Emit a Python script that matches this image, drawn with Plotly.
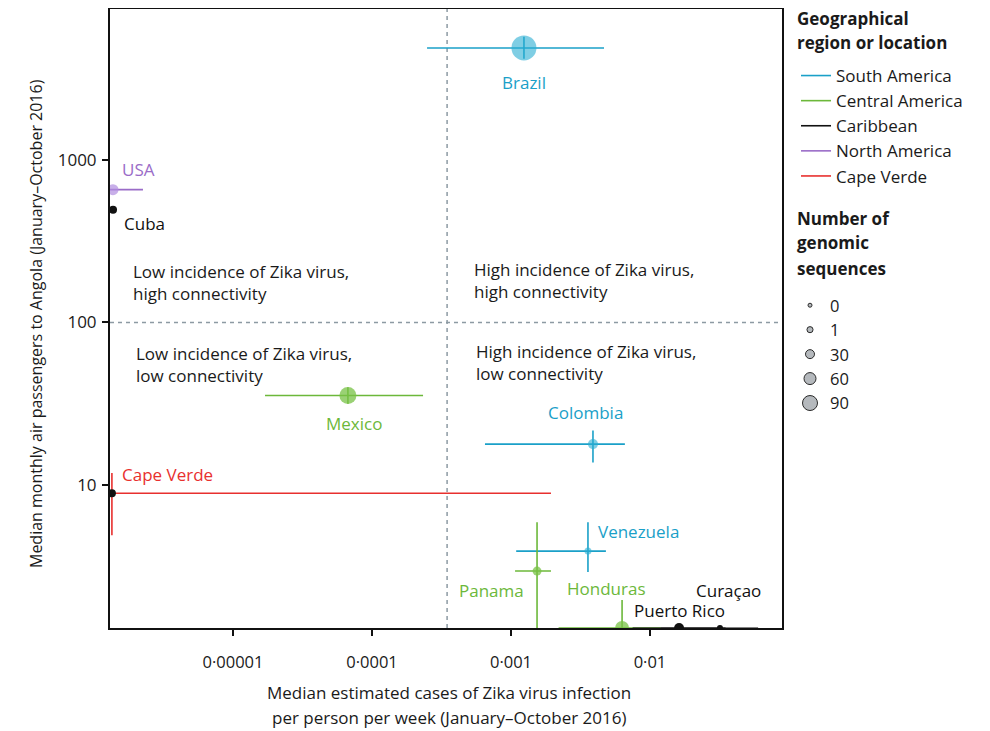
import numpy as np
import plotly.graph_objects as go

# ---------------- data ----------------
countries = ["Brazil", "Colombia", "Venezuela", "Mexico", "Panama", "Honduras",
             "Cuba", "Puerto Rico", "Curaçao", "USA", "Cape Verde"]
country_region = ["South America", "South America", "South America",
                  "Central America", "Central America", "Central America",
                  "Caribbean", "Caribbean", "Caribbean",
                  "North America", "Cape Verde"]
incidence = [0.00124, 0.00389, 0.00358, 6.71e-5, 0.00154, 0.00630,
             1.37e-6, 0.0162, 0.0319, 1.37e-6, 1.345e-6]
incidence_low = [0.000249, 0.00065, 0.00109, 1.70e-5, 0.00107, 0.0022,
                 1.37e-6, 0.0075, 0.012, 1.0e-6, 1.0e-6]
incidence_high = [0.00467, 0.0066, 0.00482, 0.000233, 0.00194, 0.012,
                  1.37e-6, 0.035, 0.06, 2.25e-6, 0.00194]
passengers = [4860, 17.9, 3.94, 35.6, 2.97, 1.3276, 493, 1.3276, 1.3276, 655, 8.93]
passengers_low = [4170, 13.8, 2.93, 31.7, 1.0, 1.0, 493, 1.3276, 1.3276, 655, 4.93]
passengers_high = [5690, 21.7, 5.93, 40.0, 5.93, 1.97, 493, 1.3276, 1.3276, 655, 11.9]
sequences = [190, 40, 10, 110, 30, 80, 20, 40, 1, 50, 20]

regions = ["South America", "Central America", "Caribbean", "North America", "Cape Verde"]
size_legend_values = [0, 1, 30, 60, 90]

incidence_threshold = 0.000347
connectivity_threshold = 100

x_tickvals = [1e-5, 1e-4, 1e-3, 1e-2]
x_ticktext = ["0·00001", "0·0001", "0·001", "0·01"]
y_tickvals = [10, 100, 1000]
y_ticktext = ["10", "100", "1000"]

# ---------------- styles ----------------
region_colors = {"South America": "#1aa0c8", "Central America": "#6cb83a",
                 "Caribbean": "#111111", "North America": "#9a6cc8",
                 "Cape Verde": "#e8302e"}
region_marker_colors = {"South America": "#2aaed2", "Central America": "#78c245",
                        "Caribbean": "#111111", "North America": "#b18de0",
                        "Cape Verde": "#111111"}
region_marker_opacity = {"South America": 0.6, "Central America": 0.75,
                         "Caribbean": 1.0, "North America": 0.7, "Cape Verde": 1.0}
region_bar_width = {"South America": 1.6, "Central America": 1.6,
                    "Caribbean": 1.0, "North America": 1.6, "Cape Verde": 1.6}

# label placement (pixel offsets from the point, text anchor)
label_style = {
    "Brazil": (0, -35, "center"), "Colombia": (-7, 32, "center"),
    "Venezuela": (8, 20, "left"), "Mexico": (6, -28, "center"),
    "Panama": (-46, -19, "center"), "Honduras": (-16, 39, "center"),
    "Cuba": (9, -14, "left"), "Puerto Rico": (-47, 17, "left"),
    "Curaçao": (-26, 37, "left"), "USA": (7, 20, "left"),
    "Cape Verde": (8, 19, "left"),
}

FONT = "Open Sans"
TXT = "#1a1a1a"

# page body has an 8px margin: the plot area sits at screen x 110-782, y 9-628
ML, MT, MR, MB = 102, 1, 216, 111
PW, PH = 990 - ML - MR, 731 - MT - MB


def seq_size(n):
    return 4 if n == 0 else 6 + 0.1 * n


def px_x(sx):
    return (sx - 8 - ML) / PW


def px_y(sy):
    return (731 - MB - (sy - 8)) / PH


fig = go.Figure()

for reg in regions:
    idx = [i for i, r in enumerate(country_region) if r == reg]
    c = region_colors[reg]
    fig.add_trace(go.Scatter(
        x=[incidence[i] for i in idx], y=[passengers[i] for i in idx],
        mode="markers", showlegend=False, hoverinfo="text",
        text=[countries[i] for i in idx],
        marker=dict(size=[seq_size(sequences[i]) for i in idx],
                    color=region_marker_colors[reg],
                    opacity=region_marker_opacity[reg], line=dict(width=0)),
        error_x=dict(type="data", symmetric=False,
                     array=[incidence_high[i] - incidence[i] for i in idx],
                     arrayminus=[incidence[i] - incidence_low[i] for i in idx],
                     color=c, thickness=region_bar_width[reg], width=0),
        error_y=dict(type="data", symmetric=False,
                     array=[passengers_high[i] - passengers[i] for i in idx],
                     arrayminus=[passengers[i] - passengers_low[i] for i in idx],
                     color=c, thickness=1.6, width=0),
    ))

# legend entries for regions (line keys)
for reg in regions:
    fig.add_trace(go.Scatter(x=[None], y=[None], mode="lines", name=reg,
                             line=dict(color=region_colors[reg], width=1.6),
                             legend="legend"))
# legend entries for number of sequences
for v in size_legend_values:
    fig.add_trace(go.Scatter(x=[None], y=[None], mode="markers", name=str(v),
                             marker=dict(size=seq_size(v), color="#b5b9bd",
                                         line=dict(color="#2a2a2a", width=1)),
                             legend="legend2"))

# threshold lines
fig.add_shape(type="line", xref="x", yref="paper", x0=incidence_threshold,
              x1=incidence_threshold, y0=0, y1=1,
              line=dict(color="#8d9aa3", width=1.5, dash="4px,4px"), layer="below")
fig.add_shape(type="line", xref="paper", yref="y", x0=0, x1=1,
              y0=connectivity_threshold, y1=connectivity_threshold,
              line=dict(color="#8d9aa3", width=1.5, dash="4px,4px"), layer="below")

annotations = []
for i, name in enumerate(countries):
    dx, dy, anchor = label_style[name]
    annotations.append(dict(
        x=np.log10(incidence[i]), y=np.log10(passengers[i]), xref="x", yref="y",
        text=name, showarrow=False, xanchor=anchor, yanchor="middle",
        xshift=dx, yshift=dy,
        font=dict(family=FONT, size=17, color=region_colors[country_region[i]])))

quadrants = [
    ("Low incidence of Zika virus,<br>high connectivity", 131, 282),
    ("High incidence of Zika virus,<br>high connectivity", 472, 280),
    ("Low incidence of Zika virus,<br>low connectivity", 134, 364),
    ("High incidence of Zika virus,<br>low connectivity", 474, 362),
]
for txt, sx, sy in quadrants:
    annotations.append(dict(x=px_x(sx), y=px_y(sy), xref="paper", yref="paper",
                            text=txt, showarrow=False, xanchor="left",
                            yanchor="middle", align="left",
                            font=dict(family=FONT, size=17, color=TXT)))

# axis titles
for txt, sy in [("Median estimated cases of Zika virus infection", 692),
                ("per person per week (January–October 2016)", 717)]:
    annotations.append(dict(x=px_x(449), y=px_y(sy), xref="paper", yref="paper",
                            text=txt, showarrow=False, xanchor="center",
                            yanchor="middle",
                            font=dict(family=FONT, size=17, color=TXT)))
annotations.append(dict(x=px_x(36), y=px_y(324), xref="paper", yref="paper",
                        text="Median monthly air passengers to Angola (January–October 2016)",
                        textangle=-90, showarrow=False, xanchor="center",
                        yanchor="middle",
                        font=dict(family=FONT, size=16, color=TXT)))

# legend titles
for txt, sy in [("Geographical", 18), ("region or location", 42),
                ("Number of", 218), ("genomic", 243), ("sequences", 268)]:
    annotations.append(dict(x=px_x(795), y=px_y(sy), xref="paper", yref="paper",
                            text="<b>" + txt + "</b>", showarrow=False,
                            xanchor="left", yanchor="middle",
                            font=dict(family=FONT, size=17, color=TXT)))

axis_common = dict(type="log", showline=True, linecolor="#111111", linewidth=2,
                   mirror=True, ticks="outside", ticklen=6, tickwidth=1.5,
                   tickcolor="#111111", showgrid=False, zeroline=False)

fig.update_layout(
    width=990, height=731,
    margin=dict(l=ML, r=MR, t=MT, b=MB, autoexpand=False),
    paper_bgcolor="white", plot_bgcolor="white",
    font=dict(family=FONT, size=16, color=TXT),
    xaxis=dict(axis_common, range=[-5.885, -1.05], tickmode="array",
               tickvals=x_tickvals, ticktext=x_ticktext, ticklabelstandoff=12,
               tickfont=dict(family=FONT, size=16.5, color=TXT)),
    yaxis=dict(axis_common, range=[0.123, 3.926], tickmode="array",
               tickvals=y_tickvals, ticktext=y_ticktext, ticklabelstandoff=2,
               tickfont=dict(family=FONT, size=17, color=TXT)),
    legend=dict(x=px_x(796), y=px_y(58), xanchor="left", yanchor="top",
                bgcolor="rgba(0,0,0,0)", tracegroupgap=0,
                font=dict(family=FONT, size=17, color=TXT)),
    legend2=dict(x=px_x(790), y=px_y(288), xanchor="left", yanchor="top",
                 bgcolor="rgba(0,0,0,0)", itemsizing="trace",
                 font=dict(family=FONT, size=16.5, color=TXT)),
    annotations=annotations,
    showlegend=True,
)

fig.write_html("out.html")
